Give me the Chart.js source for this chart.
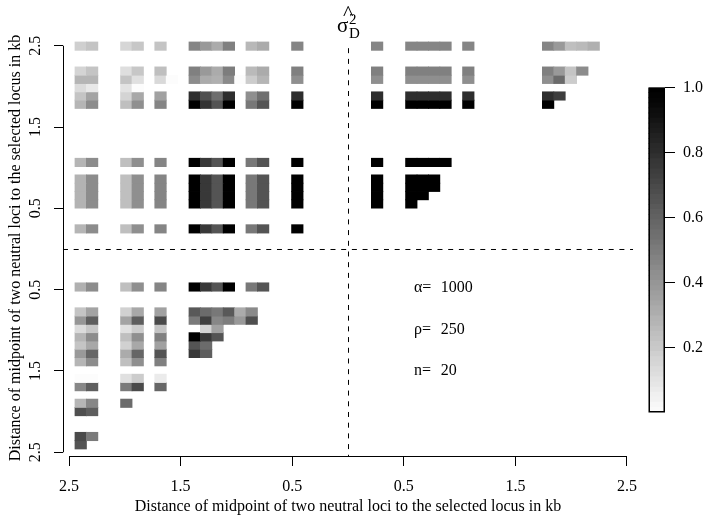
<!DOCTYPE html>
<html><head><meta charset="utf-8">
<style>
html,body{margin:0;padding:0;background:#fff}
#wrap{position:relative;width:705px;height:516px;overflow:hidden}
#main{position:absolute;left:0;top:0}
#bar{position:absolute;left:640px;top:70px}
</style>
<script src="https://cdn.jsdelivr.net/npm/chart.js@4"></script>
</head><body><div id="wrap"><canvas id="main" width="705" height="516"></canvas><canvas id="bar" width="65" height="360"></canvas></div>
<script>
// Heat-map cells: each row is a list of [column number, value]
const row00=[[0,.19],[1,.23],[4,.16],[5,.22],[7,.23],[10,.48],[11,.4],[12,.33],[13,.5],[15,.28],[16,.33],[19,.48],[26,.48],[29,.48],[30,.48],[31,.48],[32,.48],[34,.48],[41,.48],[42,.4],[43,.25],[44,.27],[45,.31]];
const row03=[[0,.17],[1,.23],[4,.13],[5,.22],[7,.25],[10,.5],[11,.4],[12,.33],[13,.51],[15,.27],[16,.33],[19,.5],[26,.5],[29,.5],[30,.5],[31,.5],[32,.5],[34,.5],[41,.5],[42,.4],[43,.23],[44,.45]];
const row04=[[0,.29],[1,.29],[4,.23],[5,.12],[7,.15],[8,.01],[10,.45],[11,.33],[12,.31],[13,.46],[14,.01],[15,.2],[16,.29],[19,.44],[26,.44],[29,.44],[30,.44],[31,.44],[32,.44],[34,.44],[41,.44],[42,.58],[43,.2]];
const row05=[[0,.14],[1,.09],[4,.11],[5,.01]];
const row06=[[0,.23],[1,.36],[4,.17],[5,.34],[7,.37],[10,.82],[11,.69],[12,.57],[13,.82],[15,.44],[16,.56],[19,.82],[26,.82],[29,.82],[30,.82],[31,.82],[32,.82],[34,.82],[41,.82],[42,.76]];
const row07=[[0,.29],[1,.45],[4,.25],[5,.44],[7,.48],[10,1],[11,.8],[12,.67],[13,1],[15,.53],[16,.67],[19,1],[26,1],[29,1],[30,1],[31,1],[32,1],[34,1],[41,1]];
const row14=[[0,.29],[1,.45],[4,.25],[5,.44],[7,.48],[10,1],[11,.78],[12,.67],[13,1],[15,.53],[16,.67],[19,1],[26,1],[29,1],[30,1],[31,1],[32,1]];
const row16=[[0,.3],[1,.45],[4,.25],[5,.44],[7,.48],[10,1],[11,.78],[12,.67],[13,1],[15,.53],[16,.67],[19,1],[26,1],[29,1],[30,1],[31,1]];
const row17=[[0,.3],[1,.45],[4,.25],[5,.44],[7,.48],[10,1],[11,.78],[12,.67],[13,1],[15,.53],[16,.67],[19,1],[26,1],[29,1],[30,1],[31,1]];
const row18=[[0,.3],[1,.45],[4,.25],[5,.44],[7,.48],[10,1],[11,.78],[12,.67],[13,1],[15,.53],[16,.67],[19,1],[26,1],[29,1],[30,1]];
const row19=[[0,.3],[1,.45],[4,.25],[5,.44],[7,.48],[10,1],[11,.78],[12,.67],[13,1],[15,.53],[16,.67],[19,1],[26,1],[29,1]];
const row22=[[0,.29],[1,.45],[4,.25],[5,.44],[7,.48],[10,1],[11,.78],[12,.67],[13,1],[15,.53],[16,.67],[19,1]];
const row29=[[0,.31],[1,.45],[4,.25],[5,.44],[7,.48],[10,1],[11,.78],[12,.67],[13,1],[15,.53],[16,.67]];
const row32=[[0,.23],[1,.36],[4,.18],[5,.34],[7,.37],[10,.65],[11,.58],[12,.53],[13,.65],[14,.33],[15,.46]];
const row33=[[0,.41],[1,.63],[4,.36],[5,.63],[7,.71],[10,.52],[11,.75],[12,.47],[13,.51],[14,.4],[15,.69]];
const row34=[[0,.14],[1,.22],[4,.12],[5,.2],[7,.23],[11,.17],[12,.37]];
const row35=[[0,.29],[1,.45],[4,.25],[5,.44],[7,.5],[10,1],[11,.78],[12,.67]];
const row36=[[0,.23],[1,.34],[4,.18],[5,.34],[7,.37],[10,.67],[11,.58]];
const row37=[[0,.4],[1,.6],[4,.33],[5,.6],[7,.67],[10,.78],[11,.63]];
const row38=[[0,.29],[1,.45],[4,.25],[5,.44],[7,.5]];
const row40=[[0,.01],[1,.01],[4,.12],[5,.2],[7,.08]];
const row41=[[0,.47],[1,.63],[4,.52],[5,.71],[7,.6]];
const row43=[[0,.29],[1,.47],[4,.58]];
const row44=[[0,.69],[1,.63]];
const row47=[[0,.71],[1,.52]];
const row48=[[0,.67]];
const heatRows=[[0,row00],[3,row03],[4,row04],[5,row05],[6,row06],[7,row07],[14,row14],[16,row16],[17,row17],[18,row18],[19,row19],[22,row22],[29,row29],[32,row32],[33,row33],[34,row34],[35,row35],[36,row36],[37,row37],[38,row38],[40,row40],[41,row41],[43,row43],[44,row44],[47,row47],[48,row48]];
const firstColumnKb=-2.395, firstRowTopKb=2.546, cellKb=0.10215;
const axisTicks=[-2.5,-1.5,-0.5,0.5,1.5,2.5];
const barTicks=[0.2,0.4,0.6,0.8,1.0];
const barLevels=[0.02,0.03,0.05,0.06,0.08,0.1,0.11,0.13,0.14,0.16,0.17,0.19,0.21,0.22,0.24,0.25,0.27,0.29,0.3,0.32,0.33,0.35,0.37,0.38,0.4,0.41,0.43,0.44,0.46,0.48,0.49,0.51,0.52,0.54,0.56,0.57,0.59,0.6,0.62,0.63,0.65,0.67,0.68,0.7,0.71,0.73,0.75,0.76,0.78,0.79,0.81,0.83,0.84,0.86,0.87,0.89,0.9,0.92,0.94,0.95,0.97,0.98,0.99,1.0];
const axisTitle='Distance of midpoint of two neutral loci to the selected locus in kb';
const notes=[['α=','1000',-0.467],['ρ=','250',-0.985],['n=','20',-1.49]];
const verticalGuide=[{x:0.0045,y:2.47},{x:0.0045,y:-2.546}];
const horizontalGuide=[{x:-2.554,y:-0.006},{x:2.554,y:-0.006}];

const FONT='"Liberation Serif"';
const grayOf=v=>{const g=Math.round(255*(1-v));return `rgb(${g},${g},${g})`;};
const heatSets=heatRows.map(([r,cells])=>({
  type:'bar',
  data:cells.map(([c,v])=>({x:firstColumnKb+c*cellKb,y:[firstRowTopKb-(r+1)*cellKb,firstRowTopKb-r*cellKb]})),
  backgroundColor:cells.map(([c,v])=>grayOf(v)),
  borderWidth:0,inflateAmount:0.4,grouped:false,barPercentage:1,categoryPercentage:1,order:2
}));
const guide=d=>({type:'line',data:d,borderColor:'#000',borderWidth:1,borderDash:[5,5.7],pointRadius:0,clip:false,order:1,showLine:true,fill:false,tension:0});

const axisLines={id:'axisLines',afterDraw(c){
  const {ctx,scales:{x,y},chartArea:a}=c;
  ctx.save();ctx.strokeStyle='#000';ctx.lineWidth=1;ctx.beginPath();
  ctx.moveTo(x.getPixelForValue(-2.5),a.bottom+.5);ctx.lineTo(x.getPixelForValue(2.5),a.bottom+.5);
  ctx.moveTo(a.left+.5,y.getPixelForValue(2.5));ctx.lineTo(a.left+.5,y.getPixelForValue(-2.5));
  ctx.stroke();
  ctx.fillStyle='#000';ctx.textBaseline='alphabetic';ctx.textAlign='left';
  ctx.font='16px '+FONT;
  notes.forEach(([a1,a2,v])=>{
    const py=y.getPixelForValue(v)+5;
    ctx.fillText(a1,x.getPixelForValue(0.591),py);
    ctx.fillText(a2,x.getPixelForValue(0.83),py);
  });
  const cx=x.getPixelForValue(0);
  ctx.font='21px '+FONT;ctx.fillText('σ',cx-11,32);
  ctx.font='22px '+FONT;ctx.fillText('^',cx-5,20);
  ctx.font='15px '+FONT;ctx.fillText('2',cx+1,24);
  ctx.fillText('D',cx+1,38);
  ctx.restore();
}};

const tickFont={family:FONT,size:16};
new Chart(document.getElementById('main'),{
  data:{datasets:[...heatSets,guide(verticalGuide),guide(horizontalGuide)]},
  plugins:[axisLines],
  options:{
    responsive:false,animation:false,devicePixelRatio:1,
    layout:{padding:{top:40,right:72,left:0,bottom:0}},
    plugins:{legend:{display:false},tooltip:{enabled:false}},
    scales:{
      x:{type:'linear',min:-2.5538,max:2.5538,offset:false,
        grid:{offset:false,drawOnChartArea:false,tickLength:10,color:'#000',tickColor:'#000'},
        border:{display:false},
        afterBuildTicks(s){s.ticks=axisTicks.map(value=>({value}));},
        afterFit(s){s.height=60;},
        ticks:{font:tickFont,color:'#000',padding:11,autoSkip:false,maxRotation:0,minRotation:0,callback:v=>Math.abs(v).toFixed(1)},
        title:{display:true,text:axisTitle,font:tickFont,color:'#000',padding:{top:1.4,bottom:0}}
      },
      y:{type:'linear',min:-2.546,max:2.5707,
        grid:{drawOnChartArea:false,tickLength:9,color:'#000',tickColor:'#000'},
        border:{display:false},
        afterBuildTicks(s){s.ticks=axisTicks.map(value=>({value}));},
        afterFit(s){s.width=63;},
        ticks:{font:tickFont,color:'#000',padding:8,autoSkip:false,minRotation:90,maxRotation:90,crossAlign:'center',callback:v=>Math.abs(v).toFixed(1)},
        title:{display:true,text:axisTitle,font:tickFont,color:'#000',padding:{top:6.4,bottom:0}}
      }
    }
  }
});

const n=barLevels.length;
const barSets=barLevels.map((v,i)=>({
  data:[[i/n,(i+1)/n]],backgroundColor:grayOf(v),borderWidth:0,inflateAmount:0.4,grouped:false,barPercentage:1,categoryPercentage:1,order:2
}));
barSets.push({data:[[0,1]],backgroundColor:'rgba(0,0,0,0)',borderColor:'#000',borderWidth:1,borderSkipped:false,inflateAmount:0.5,grouped:false,barPercentage:1,categoryPercentage:1,order:1});
new Chart(document.getElementById('bar'),{
  type:'bar',
  data:{labels:[''],datasets:barSets},
  options:{
    responsive:false,animation:false,devicePixelRatio:1,
    layout:{padding:{top:13,bottom:14.5,left:8.5,right:0}},
    plugins:{legend:{display:false},tooltip:{enabled:false}},
    scales:{
      x:{display:false},
      y:{type:'linear',position:'right',min:0,max:1,
        grid:{drawOnChartArea:false,tickLength:10,color:'#000',tickColor:'#000'},
        border:{display:false},
        afterBuildTicks(s){s.ticks=barTicks.map(value=>({value}));},
        afterFit(s){s.width=40;},
        ticks:{font:tickFont,color:'#000',padding:8,autoSkip:false,callback:v=>v.toFixed(1)}
      }
    }
  }
});
</script></body></html>
